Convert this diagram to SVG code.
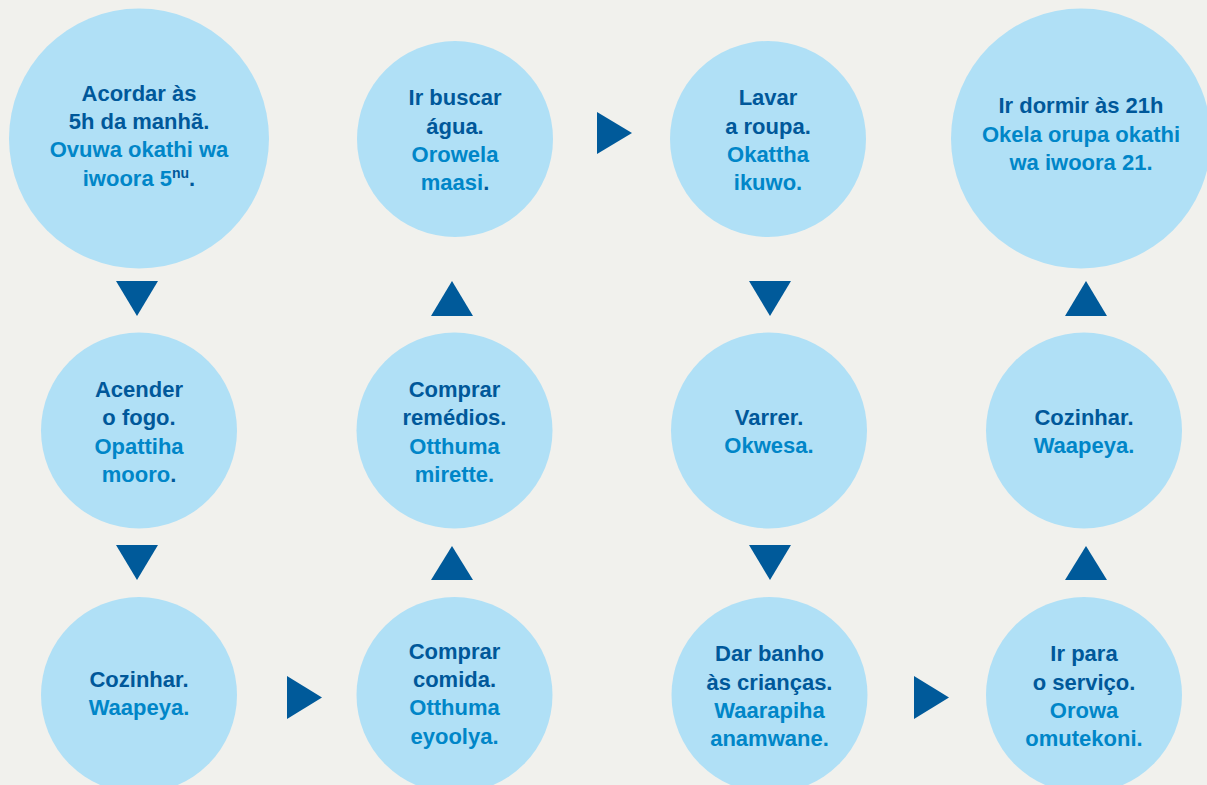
<svg xmlns="http://www.w3.org/2000/svg" width="1207" height="785" viewBox="0 0 1207 785">
  <style>
    .bg { fill: #f1f1ed; }
    .node { fill: #b0e0f6; }
    .arrow { fill: #005a9a; }
    text { font-family: "Liberation Sans Narrow", "Liberation Sans", Arial, sans-serif; font-weight: bold; font-size: 22px; text-anchor: middle; }
    .pt { fill: #00589a; }
    .mz { fill: #0086c8; }
    .dk { fill: #00589a; }
  </style>
  <rect class="bg" x="0" y="0" width="1207" height="785"/>

  <!-- flow arrows -->
  <g id="connectors">
    <polygon class="arrow" points="116,281 158,281 137,316"/>
    <polygon class="arrow" points="116,545 158,545 137,580"/>
    <polygon class="arrow" points="287,676 322,697.5 287,719"/>
    <polygon class="arrow" points="431,580 473,580 452,546"/>
    <polygon class="arrow" points="431,316 473,316 452,281"/>
    <polygon class="arrow" points="597,112 632,133 597,154"/>
    <polygon class="arrow" points="749,281 791,281 770,316"/>
    <polygon class="arrow" points="749,545 791,545 770,580"/>
    <polygon class="arrow" points="914,676 949,697.5 914,719"/>
    <polygon class="arrow" points="1065,580 1107,580 1086,546"/>
    <polygon class="arrow" points="1065,316 1107,316 1086,281"/>
  </g>

  <g id="acordar">
    <circle class="node" cx="139" cy="138.5" r="130"/>
    <text class="pt" x="139" y="101">Acordar às</text>
    <text class="pt" x="139" y="129">5h da manhã.</text>
    <text class="mz" x="139" y="157">Ovuwa okathi wa</text>
    <text class="mz" x="139" y="186">iwoora 5<tspan class="dk" font-size="14" dy="-8">nu</tspan><tspan class="dk" dy="8">.</tspan></text>
  </g>

  <g id="acender">
    <circle class="node" cx="139" cy="430.5" r="98"/>
    <text class="pt" x="139" y="397">Acender</text>
    <text class="pt" x="139" y="425">o fogo.</text>
    <text class="mz" x="139" y="453.5">Opattiha</text>
    <text class="mz" x="139" y="482">mooro<tspan class="dk">.</tspan></text>
  </g>

  <g id="cozinhar-1">
    <circle class="node" cx="139" cy="695" r="98"/>
    <text class="pt" x="139" y="687">Cozinhar.</text>
    <text class="mz" x="139" y="715">Waapeya.</text>
  </g>

  <g id="comprar-comida">
    <circle class="node" cx="454.5" cy="695" r="98"/>
    <text class="pt" x="454.5" y="658.5">Comprar</text>
    <text class="pt" x="454.5" y="687">comida.</text>
    <text class="mz" x="454.5" y="715">Otthuma</text>
    <text class="mz" x="454.5" y="743.5">eyoolya.</text>
  </g>

  <g id="comprar-remedios">
    <circle class="node" cx="454.5" cy="430.5" r="98"/>
    <text class="pt" x="454.5" y="397">Comprar</text>
    <text class="pt" x="454.5" y="425">remédios.</text>
    <text class="mz" x="454.5" y="453.5">Otthuma</text>
    <text class="mz" x="454.5" y="482">mirette.</text>
  </g>

  <g id="agua">
    <circle class="node" cx="455" cy="139" r="98"/>
    <text class="pt" x="455" y="105">Ir buscar</text>
    <text class="pt" x="455" y="133.5">água.</text>
    <text class="mz" x="455" y="162">Orowela</text>
    <text class="mz" x="455" y="190">maasi<tspan class="dk">.</tspan></text>
  </g>

  <g id="lavar">
    <circle class="node" cx="768" cy="139" r="98"/>
    <text class="pt" x="768" y="105">Lavar</text>
    <text class="pt" x="768" y="133.5">a roupa.</text>
    <text class="mz" x="768" y="162">Okattha</text>
    <text class="mz" x="768" y="190">ikuwo.</text>
  </g>

  <g id="varrer">
    <circle class="node" cx="769" cy="430.5" r="98"/>
    <text class="pt" x="769" y="425">Varrer.</text>
    <text class="mz" x="769" y="453">Okwesa.</text>
  </g>

  <g id="banho">
    <circle class="node" cx="769.5" cy="695" r="98"/>
    <text class="pt" x="769.5" y="661">Dar banho</text>
    <text class="pt" x="769.5" y="689.5">às crianças.</text>
    <text class="mz" x="769.5" y="718">Waarapiha</text>
    <text class="mz" x="769.5" y="746">anamwane.</text>
  </g>

  <g id="servico">
    <circle class="node" cx="1084" cy="695" r="98"/>
    <text class="pt" x="1084" y="661">Ir para</text>
    <text class="pt" x="1084" y="689.5">o serviço.</text>
    <text class="mz" x="1084" y="718">Orowa</text>
    <text class="mz" x="1084" y="746">omutekoni.</text>
  </g>

  <g id="cozinhar-2">
    <circle class="node" cx="1084" cy="430.5" r="98"/>
    <text class="pt" x="1084" y="425">Cozinhar.</text>
    <text class="mz" x="1084" y="453">Waapeya.</text>
  </g>

  <g id="dormir">
    <circle class="node" cx="1081" cy="138.5" r="130"/>
    <text class="pt" x="1081" y="113">Ir dormir às 21h</text>
    <text class="mz" x="1081" y="141.5">Okela orupa okathi</text>
    <text class="mz" x="1081" y="170">wa iwoora 21.</text>
  </g>
</svg>
